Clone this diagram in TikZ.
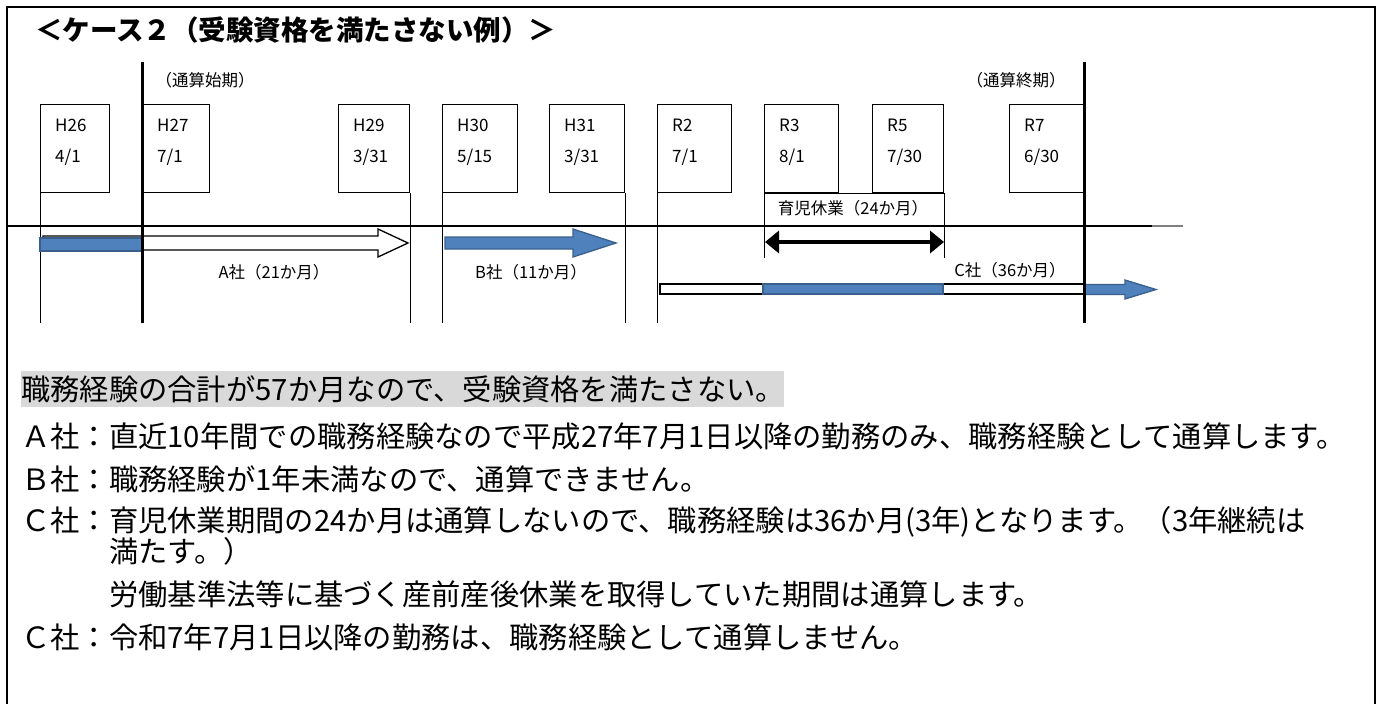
\documentclass[tikz,border=0pt]{standalone}
\usepackage{fontspec}
\setmainfont{Noto Sans CJK JP}
\usetikzlibrary{arrows.meta,calc}
\definecolor{barblue}{HTML}{4F81BD}
\definecolor{baredge}{HTML}{3A5F8C}
\definecolor{markgray}{HTML}{D9D9D9}
\newcommand\colorTimeline{black}
\newcommand\colorCounted{barblue}

\begin{document}
\begin{tikzpicture}[x=1pt,y=-1pt,
		datebox/.style={draw, line width=1.3pt, minimum height=88pt, anchor=north west, inner sep=0pt},
		datetext/.style={anchor=west, inner sep=0pt, font=\fontsize{17}{20}\selectfont},
		smalltext/.style={inner sep=0pt, font=\fontsize{16.5}{20}\selectfont},
		bodytext/.style={anchor=west, inner sep=0pt, font=\fontsize{29.3}{34}\selectfont},
		countbar/.style={draw=baredge, line width=1.3pt, fill=\colorCounted},
		plainbar/.style={draw=black, line width=1.3pt, fill=white}]
		\useasboundingbox (0,0) rectangle (1384,704);
		\draw[line width=1.5pt] (7,712) -- (7,7) -- (1375,7) -- (1375,712);
		\node[anchor=west, inner sep=0pt, font=\fontsize{27.5}{30}\selectfont\bfseries] (title) at (35,30) {＜ケース２（受験資格を満たさない例）＞};
	
		% date boxes
		\foreach \boxname/\xa/\xb/\eraTxt/\dateTxt in {h26/40/109/H26/{4/1}, h27/142/209/H27/{7/1}, h29/338/409/H29/{3/31}, h30/442/517/H30/{5/15}, h31/549/624/H31/{3/31}, r2/657/731/R2/{7/1}, r3/764/838/R3/{8/1}, r5/872/943/R5/{7/30}, r7/1009/1084/R7/{6/30}}{
			\pgfmathsetmacro\w{\xb-\xa}
			\node[datebox, minimum width=\w pt] (\boxname) at (\xa,104) {};
			\node[datetext] at ($(\boxname.north west)+(15,21)$) {\eraTxt};
			\node[datetext] at ($(\boxname.north west)+(15,53)$) {\dateTxt};
		}
	
		\coordinate (base) at (0,323);
		\coordinate (leaveBase) at (0,258);
		\foreach \c in {h26.south west, h29.south east, h30.south west, h31.south east, r2.south west}{
			\draw[line width=1pt, color=\colorTimeline] (\c) -- (\c |- base);
		}
		\draw[line width=1pt] (r3.south west |- leaveBase) -- (r3.south west) -- (r5.south east) -- (r5.south east |- leaveBase);
		\node[smalltext] (leave) at (853,208) {育児休業（24か月）};
	
		% timeline
		\coordinate (lineL) at (7,226);
		\coordinate (lineR) at (1152,226);
		\coordinate (lineEnd) at (1183,226);
		\draw[line width=1.5pt, color=\colorTimeline] (lineL) -- (lineR);
		\draw[line width=1.2pt, gray] (lineR) -- (lineEnd);
	
		% A, B, C
		\draw[plainbar] (43,236) -- (378,236) -- (378,229) -- (408,243) -- (378,257) -- (378,250) -- (43,250) -- cycle;
		\draw[countbar] (40,238) rectangle (143,251);
		\draw[countbar] (445,237) -- (573,237) -- (573,229) -- (616,243) -- (573,257) -- (573,249) -- (445,249) -- cycle;
		\coordinate (leaveL) at (765,242);
		\coordinate (leaveR) at (944,242);
		\draw[line width=4pt, {Triangle[length=14pt,width=22pt]}-{Triangle[length=14pt,width=22pt]}] (leaveL) -- (leaveR);
		\draw[plainbar] (660,284) rectangle (1084,294);
		\draw[countbar] (763,284) rectangle (943,294);
		\draw[countbar] (1084,284.5) -- (1125,284.5) -- (1125,280) -- (1156,289.5) -- (1125,299) -- (1125,294.5) -- (1084,294.5) -- cycle;
		\node[smalltext] (compA) at (274,272) {A社（21か月）};
		\node[smalltext] (compB) at (531,272) {B社（11か月）};
		\node[smalltext] (compC) at (1010,270) {C社（36か月）};
	
		% start and end of the count
		\coordinate (startTop) at (142,62);
		\coordinate (startBot) at (142,323);
		\coordinate (endTop) at (1084,62);
		\coordinate (endBot) at (1084,323);
		\draw[line width=3pt] (startTop) -- (startBot);
		\draw[line width=3pt] (endTop) -- (endBot);
		\node[smalltext] (startLbl) at (205,80) {（通算始期）};
		\node[smalltext] (endLbl) at (1016,80) {（通算終期）};
	
		% notes
		\node[bodytext, fill=markgray, text width=763pt, inner ysep=4pt] (total) at (21,389) {職務経験の合計が57か月なので、受験資格を満たさない。};
		\node[bodytext] (noteA) at (21,436) {Ａ社：直近10年間での職務経験なので平成27年7月1日以降の勤務のみ、職務経験として通算します。};
		\node[bodytext] (noteB) at (21,479) {Ｂ社：職務経験が1年未満なので、通算できません。};
		\node[bodytext] (noteC) at (21,522) {Ｃ社：育児休業期間の24か月は通算しないので、職務経験は36か月(3年)となります。（3年継続は};
		\node[bodytext] (noteC2) at (109,551) {満たす。）};
		\node[bodytext] (noteC3) at (109,594) {労働基準法等に基づく産前産後休業を取得していた期間は通算します。};
		\node[bodytext] (noteD) at (21,637) {Ｃ社：令和7年7月1日以降の勤務は、職務経験として通算しません。};
	\end{tikzpicture}
\end{document}
